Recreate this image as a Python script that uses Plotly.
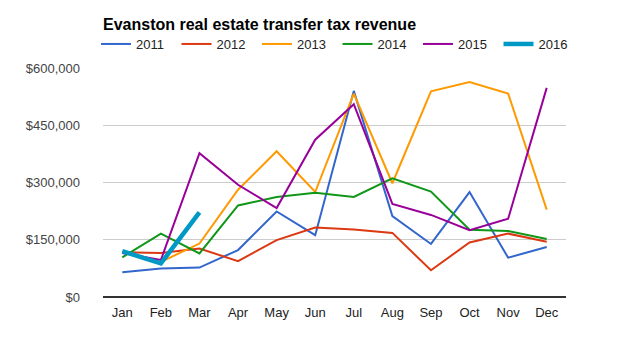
import plotly.graph_objects as go

months = ["Jan", "Feb", "Mar", "Apr", "May", "Jun", "Jul", "Aug", "Sep", "Oct", "Nov", "Dec"]
y2011 = [65000, 75000, 77000, 123000, 224000, 162000, 540000, 212000, 139000, 275000, 103000, 131000]
y2012 = [117000, 115000, 127000, 94000, 149000, 182000, 177000, 168000, 70000, 143000, 166000, 145000]
y2013 = [118000, 92000, 140000, 281000, 382000, 275000, 533000, 298000, 539000, 563000, 533000, 229000]
y2014 = [104000, 166000, 114000, 240000, 262000, 273000, 262000, 311000, 276000, 176000, 173000, 152000]
y2015 = [115000, 97000, 377000, 294000, 233000, 412000, 505000, 244000, 215000, 175000, 205000, 548000]
y2016 = [120000, 88000, 222000]
ytick_vals = [0, 150000, 300000, 450000, 600000]
ytick_text = ["$0", "$150,000", "$300,000", "$450,000", "$600,000"]

series = [
    ("2011", y2011, "#3366cc", 2),
    ("2012", y2012, "#dc3912", 2),
    ("2013", y2013, "#ff9900", 2),
    ("2014", y2014, "#109618", 2),
    ("2015", y2015, "#990099", 2),
    ("2016", y2016, "#0099c6", 4.5),
]

fig = go.Figure()
for name, vals, color, w in series:
    fig.add_trace(go.Scatter(
        x=months[:len(vals)], y=vals, name=name, mode="lines",
        line=dict(color=color, width=w),
    ))

FONT = "Arial, 'Liberation Sans', sans-serif"
# page body has an 8px default margin; compensate so the plot lands where the reference has it
L, R, T, B = 95, 72, 60, 66
PW, PH = 630 - L - R, 355 - T - B
fig.update_layout(
    width=630, height=355,
    margin=dict(l=L, r=R, t=T, b=B),
    paper_bgcolor="white", plot_bgcolor="white",
    font=dict(family=FONT, size=13, color="#444444"),
    title=dict(text="<b>Evanston real estate transfer tax revenue</b>",
               font=dict(family=FONT, size=16, color="#000000"),
               xref="container", yref="container",
               x=95/630, xanchor="left", y=1-16/355, yanchor="middle"),
    legend=dict(orientation="h", xref="paper", yref="paper",
                x=(88 - L)/PW, xanchor="left", y=1 + (T - 36)/PH, yanchor="middle",
                bgcolor="rgba(0,0,0,0)",
                font=dict(family=FONT, size=13, color="#222222"),
                entrywidth=35.5, entrywidthmode="pixels", itemwidth=30, tracegroupgap=0),
    showlegend=True,
)
fig.update_xaxes(type="category", categoryorder="array", categoryarray=months,
                 range=[-0.5, 11.5], showgrid=False, ticks="", showline=False,
                 ticklabelstandoff=6, tickfont=dict(color="#222222"))
fig.update_yaxes(range=[0, 600000], tickvals=ytick_vals, ticktext=ytick_text,
                 showgrid=True, gridcolor="#cccccc",
                 gridwidth=1, zeroline=True, zerolinecolor="#333333", zerolinewidth=1.5,
                 ticks="", ticklabelstandoff=22, tickfont=dict(color="#444444"))

fig.write_html("out.html")
